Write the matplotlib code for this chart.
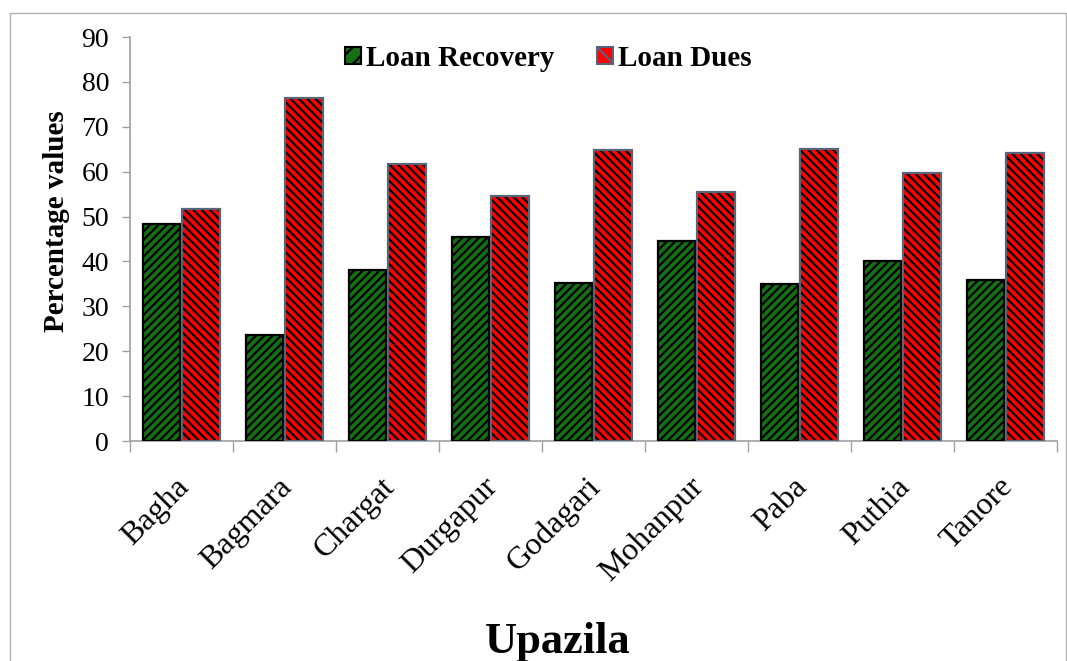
import numpy as np
import matplotlib.pyplot as plt
from matplotlib.patches import Rectangle

upazilas = ["Bagha", "Bagmara", "Chargat", "Durgapur", "Godagari",
            "Mohanpur", "Paba", "Puthia", "Tanore"]
loan_recovery = [48.3, 23.6, 38.2, 45.5, 35.2, 44.6, 34.9, 40.2, 35.9]
loan_dues = [51.7, 76.4, 61.8, 54.5, 64.8, 55.4, 65.1, 59.8, 64.1]

plt.rcParams['font.family'] = ['Liberation Serif', 'DejaVu Serif']
plt.rcParams['hatch.linewidth'] = 1.6

fig = plt.figure(figsize=(10.67, 6.61), dpi=100)
fig.patches.append(Rectangle((0.009, -0.01), 0.99, 0.99, transform=fig.transFigure,
                             fill=False, edgecolor='#b0b0b0', linewidth=1.0))
ax = fig.add_axes([0.1218, 0.3328, 0.8688, 0.6112])

x = np.arange(len(upazilas))
w = 0.36
off = 0.19
# fill + black hatch, then outline on top
ax.bar(x - off, loan_recovery, w, color='#157015', edgecolor='black',
       hatch='////', linewidth=0, zorder=2)
ax.bar(x + off, loan_dues, w, color='#ff0000', edgecolor='black',
       hatch='\\\\\\\\', linewidth=0, zorder=2)
ax.bar(x - off, loan_recovery, w, fill=False, edgecolor='black', linewidth=1.6, zorder=3)
ax.bar(x + off, loan_dues, w, fill=False, edgecolor='#56657a', linewidth=1.6, zorder=3)

# legend proxies
h1 = Rectangle((0, 0), 1, 1, facecolor='#157015', edgecolor='black', hatch='//', linewidth=1.5)
h2 = Rectangle((0, 0), 1, 1, facecolor='#ff0000', edgecolor='#56657a', hatch='\\\\', linewidth=1.5)
ax.legend([h1, h2], ['Loan Recovery', 'Loan Dues'], loc='center',
          bbox_to_anchor=(0.514, 0.912), bbox_transform=fig.transFigure, ncol=2, frameon=False,
          prop={'weight': 'bold', 'size': 21}, handlelength=0.55, handleheight=0.55,
          handletextpad=0.17, columnspacing=1.45, borderpad=0)

ax.set_xlim(-0.5, len(upazilas) - 0.5)
ax.set_ylim(0, 90)
ax.set_yticks(np.arange(0, 91, 10))
ax.tick_params(axis='y', labelsize=20, length=6, color='#a0a0a0', width=1, pad=9)

ax.set_xticks(np.arange(-0.5, len(upazilas), 1))
ax.set_xticklabels([])
ax.tick_params(axis='x', length=8, color='#a0a0a0', width=1)
for i, name in enumerate(upazilas):
    ax.text(i - 0.07, -7.0, name, rotation=45, ha='right', va='top', rotation_mode='anchor',
            fontsize=23)

for s in ['top', 'right']:
    ax.spines[s].set_visible(False)
for s in ['left', 'bottom']:
    ax.spines[s].set_color('#a0a0a0')
    ax.spines[s].set_linewidth(1.2)

ax.set_ylabel('Percentage values', fontsize=21, fontweight='bold')
ax.yaxis.set_label_coords(-0.065, 0.545)
fig.text(0.523, 0.028, 'Upazila', ha='center', va='center', fontsize=32, fontweight='bold')

fig.savefig('out.png', dpi=100)
